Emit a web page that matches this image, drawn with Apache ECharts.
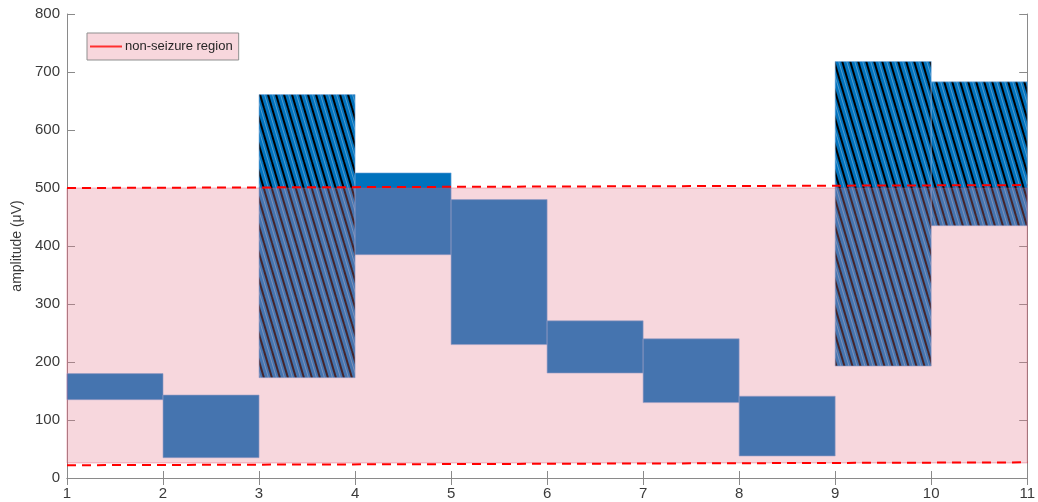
<!DOCTYPE html>
<html>
<head>
<meta charset="utf-8">
<script src="https://cdn.jsdelivr.net/npm/echarts@6/dist/echarts.min.js"></script>
<style>
html,body{margin:0;padding:0;background:#fff;}
#chart{width:1038px;height:502px;}
</style>
</head>
<body>
<div id="chart"></div>
<script>
// ---- data ----
const xStart   = [1, 2, 3, 4, 5, 6, 7, 8, 9, 10];
const lowVals  = [135, 35, 173, 385, 230, 181, 130, 38, 193, 435];
const highVals = [180, 143, 661, 526, 480, 271, 240, 141, 718, 683];
const hatched  = [0, 0, 1, 0, 0, 0, 0, 0, 1, 1];
const regionBounds = [26, 500];           // non-seizure band (low, high)
const upperLine = [[1, 500], [11, 505]];  // dashed upper threshold
const lowerLine = [[1, 22], [11, 27]];    // dashed lower threshold
const xTicks = [1, 2, 3, 4, 5, 6, 7, 8, 9, 10, 11];
const yTicks = [0, 100, 200, 300, 400, 500, 600, 700, 800];

// ---- hatch pattern ----
function makeHatch() {
  const c = document.createElement('canvas');
  c.width = 8; c.height = 27;
  const g = c.getContext('2d');
  g.fillStyle = '#0072BD';
  g.fillRect(0, 0, 8, 27);
  for (const k of [-16, -8, 0, 8, 16]) {
    g.strokeStyle = '#000000';
    g.lineWidth = 2.0;
    g.beginPath(); g.moveTo(k, 0); g.lineTo(k + 8, 27); g.stroke();
    g.strokeStyle = 'rgba(220,225,230,0.55)';
    g.lineWidth = 0.7;
    g.beginPath(); g.moveTo(k + 4.5, 0); g.lineTo(k + 12.5, 27); g.stroke();
  }
  return c;
}
const hatchPattern = { image: makeHatch(), repeat: 'repeat' };

const barData = xStart.map((x, i) => [x, x + 1, lowVals[i], highVals[i], hatched[i]]);

const chart = echarts.init(document.getElementById('chart'), null, { renderer: 'canvas' });
const axisGray = '#8a8a8a';
const labelColor = '#3a3a3a';
const fontFam = '"Liberation Sans", Arial, Helvetica, sans-serif';

chart.setOption({
  animation: false,
  backgroundColor: '#ffffff',
  grid: { left: 67, right: 9, top: 14, bottom: 24, containLabel: false },
  legend: {
    left: 87, top: 33,
    orient: 'vertical',
    backgroundColor: 'rgb(248,215,221)',
    borderColor: '#8f8f8f', borderWidth: 1, borderRadius: 0,
    padding: [7, 6, 7, 3],
    itemWidth: 32, itemHeight: 2,
    itemGap: 4,
    data: [{ name: 'non-seizure region', icon: 'rect', itemStyle: { color: '#ff3030' } }],
    textStyle: { fontSize: 13, color: '#262626', fontFamily: fontFam, padding: [0, 0, 0, -2] },
    selectedMode: false
  },
  xAxis: [{
    type: 'value', min: 1, max: 11, interval: 1,
    axisLine: { show: true, lineStyle: { color: axisGray, width: 1 } },
    axisTick: { show: true, inside: true, length: 7, lineStyle: { color: axisGray } },
    axisLabel: { color: labelColor, fontSize: 15, fontFamily: fontFam, margin: 8,
      formatter: v => xTicks.includes(v) ? String(v) : '' },
    splitLine: { show: false }
  }, {
    type: 'value', min: 1, max: 11, interval: 1, position: 'top',
    axisLine: { show: true, lineStyle: { color: axisGray, width: 1 } },
    axisTick: { show: true, inside: true, length: 7, lineStyle: { color: axisGray } },
    axisLabel: { show: false }, splitLine: { show: false }
  }],
  yAxis: [{
    type: 'value', min: 0, max: 800, interval: 100,
    name: 'amplitude (μV)', nameLocation: 'middle', nameGap: 42, nameRotate: 90,
    nameTextStyle: { color: labelColor, fontSize: 14, fontFamily: fontFam },
    axisLine: { show: true, lineStyle: { color: axisGray, width: 1 } },
    axisTick: { show: true, inside: true, length: 8, lineStyle: { color: axisGray } },
    axisLabel: { color: labelColor, fontSize: 15, fontFamily: fontFam, margin: 7,
      formatter: v => yTicks.includes(v) ? String(v) : '' },
    splitLine: { show: false }
  }, {
    type: 'value', min: 0, max: 800, interval: 100, position: 'right',
    axisLine: { show: true, lineStyle: { color: axisGray, width: 1 } },
    axisTick: { show: true, inside: true, length: 8, lineStyle: { color: axisGray } },
    axisLabel: { show: false }, splitLine: { show: false }
  }],
  series: [
    {
      type: 'custom', name: 'bands', z: 2,
      encode: { x: [0, 1], y: [2, 3] },
      data: barData,
      renderItem: function (params, api) {
        const p0 = api.coord([api.value(0), api.value(3)]);
        const p1 = api.coord([api.value(1), api.value(2)]);
        return {
          type: 'rect',
          shape: { x: p0[0], y: p0[1], width: p1[0] - p0[0], height: p1[1] - p0[1] },
          style: { fill: api.value(4) ? hatchPattern : '#0072BD',
                   stroke: 'rgba(120,170,220,0.6)', lineWidth: 1 }
        };
      }
    },
    {
      type: 'custom', name: 'region', z: 3, silent: true,
      encode: { x: [0, 1], y: [2, 3] },
      data: [[xTicks[0], xTicks[xTicks.length - 1], regionBounds[0], regionBounds[1]]],
      renderItem: function (params, api) {
        const p0 = api.coord([api.value(0), api.value(3)]);
        const p1 = api.coord([api.value(1), api.value(2)]);
        return {
          type: 'rect',
          shape: { x: p0[0], y: p0[1], width: p1[0] - p0[0], height: p1[1] - p0[1] },
          style: { fill: 'rgba(230,122,142,0.3)', stroke: 'rgba(225,60,90,0.35)', lineWidth: 1 }
        };
      }
    },
    {
      type: 'line', name: 'non-seizure region', z: 4, data: upperLine,
      symbol: 'none', silent: true,
      lineStyle: { color: '#ff0000', width: 2, type: [9, 6] }
    },
    {
      type: 'line', name: 'lower', z: 4, data: lowerLine,
      symbol: 'none', silent: true,
      lineStyle: { color: '#ff0000', width: 2, type: [9, 6] }
    }
  ]
});
</script>
</body>
</html>
